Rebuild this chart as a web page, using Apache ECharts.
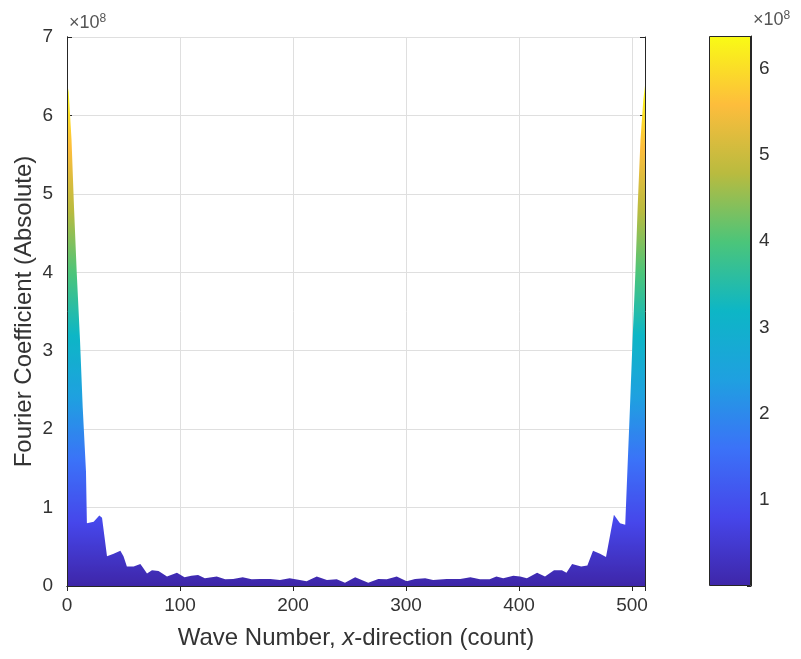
<!DOCTYPE html>
<html>
<head>
    <meta charset="UTF-8">
    <title>Fourier Coefficient</title>
    <style>
        html, body { margin: 0; padding: 0; background: #fff; }
        #chart { width: 801px; height: 659px; }
    </style>
    <script src="https://cdn.jsdelivr.net/npm/echarts/dist/echarts.min.js"></script>
</head>
<body>
<div id="chart"></div>
<script type="text/javascript">
    // side view of |F|, values in units of 1e8
    var waveNumber = [0, 1.5, 4, 6.2, 8.6, 11.5, 13.9, 16.8, 17.6, 19.2, 23.6, 28.6, 31, 35.4, 41.3, 47.2, 50, 53, 59, 64.9, 67,
        70.8, 75.2, 81, 88.5, 97.3, 104, 110, 116, 122, 132.5, 140, 147, 155.5, 163.4, 171, 180, 188.5, 197, 206, 212,
        221, 230, 238.7, 246, 255, 266.6, 275.5, 283, 291.8, 300.6, 308, 317, 324, 336, 348, 357, 365.5, 374, 380, 386,
        395, 401, 407, 416, 423, 431, 438, 442, 447, 455, 460.5, 465.5, 471.7, 477, 484, 489.4, 494, 496, 498.2, 500.5,
        503, 505, 507.5, 510, 511.5];
    var coefficient = [6.42, 6.3, 5.69, 4.83, 4.0, 3.14, 2.28, 1.46, 0.80, 0.78, 0.82, 0.90, 0.87, 0.38, 0.41, 0.45, 0.38, 0.25, 0.25, 0.28, 0.24,
        0.16, 0.20, 0.19, 0.12, 0.17, 0.11, 0.13, 0.14, 0.10, 0.12, 0.085, 0.09, 0.11, 0.085, 0.09, 0.09, 0.077, 0.10, 0.077, 0.06,
        0.12, 0.077, 0.085, 0.04, 0.11, 0.04, 0.09, 0.085, 0.12, 0.06, 0.09, 0.10, 0.077, 0.09, 0.09, 0.11, 0.085, 0.085, 0.12, 0.10,
        0.13, 0.12, 0.10, 0.17, 0.12, 0.20, 0.20, 0.17, 0.28, 0.25, 0.26, 0.45, 0.41, 0.37, 0.91, 0.80, 0.78, 1.5, 2.28, 3.14,
        4.0, 4.83, 5.69, 6.2, 6.38];
    var xMax = 511.5;
    var yMax = 7;
    var cMin = 0;
    var cMax = 6.38;   // colour limits of the surface

    // parula, bottom to top
    var parula = ['#3E26A8', '#4646EA', '#3B72F8', '#1FA0E0', '#0DB6C6', '#4BC57A', '#B9BB3F', '#FDBD3C', '#F9FB15'];

    var txt = '#333333';
    var font = 'Liberation Sans';
    var pairs = [];
    for (var i = 0; i < waveNumber.length; i++) {
        pairs.push([waveNumber[i], coefficient[i]]);
    }
    var stops = parula.map(function (c, i) {
        return { offset: i / (parula.length - 1), color: c };
    });
    var expo = {
        a: { fontFamily: font, fontSize: 18, fontWeight: 'normal', color: '#555' },
        b: { fontFamily: font, fontSize: 12, fontWeight: 'normal', color: '#555', verticalAlign: 'top', padding: [0, 0, 9, 0] }
    };

    var chart = echarts.init(document.getElementById('chart'));
    var option = {
        animation: false,
        backgroundColor: '#fff',
        title: [
            { text: '{a|×10}{b|8}', left: 64, top: 8, textStyle: { fontWeight: 'normal', rich: expo } },
            { text: '{a|×10}{b|8}', left: 748, top: 5, textStyle: { fontWeight: 'normal', rich: expo } }
        ],
        grid: [
            { left: 67, top: 37, width: 578, height: 549 },
            { left: 709, top: 36, width: 42, height: 550 }
        ],
        visualMap: {
            type: 'continuous', show: false, seriesIndex: 0, dimension: 1,
            min: cMin, max: cMax, inRange: { color: parula }
        },
        xAxis: [
            {
                gridIndex: 0, type: 'value', min: 0, max: xMax, interval: 100, position: 'bottom',
                axisLine: { lineStyle: { color: '#262626' } },
                axisTick: { inside: true, length: 5, lineStyle: { color: '#262626' } },
                axisLabel: {
                    color: txt, fontFamily: font, fontSize: 19, margin: 10,
                    formatter: function (v) { return v % 100 === 0 ? v : ''; }
                },
                splitLine: { show: true, lineStyle: { color: '#dfdfdf' } },
                name: 'Wave Number, {i|x}-direction (count)',
                nameLocation: 'middle', nameGap: 40,
                nameTextStyle: {
                    color: txt, fontFamily: font, fontSize: 24,
                    rich: { i: { fontStyle: 'italic', fontFamily: font, fontSize: 24, color: txt } }
                }
            },
            {
                gridIndex: 0, type: 'value', min: 0, max: xMax, interval: 100, position: 'top',
                axisLine: { lineStyle: { color: '#262626' } },
                axisTick: { inside: true, length: 5, lineStyle: { color: '#262626' } },
                axisLabel: { show: false }, splitLine: { show: false }
            },
            { gridIndex: 1, type: 'category', data: ['c'], show: false }
        ],
        yAxis: [
            {
                gridIndex: 0, type: 'value', min: 0, max: yMax, interval: 1, position: 'left',
                axisLine: { show: true, lineStyle: { color: '#262626' } },
                axisTick: { show: true, inside: true, length: 5, lineStyle: { color: '#262626' } },
                axisLabel: { color: txt, fontFamily: font, fontSize: 19, margin: 14 },
                splitLine: { show: true, lineStyle: { color: '#dfdfdf' } },
                name: 'Fourier Coefficient (Absolute)',
                nameLocation: 'middle', nameGap: 31, nameMoveOverlap: false,
                nameTextStyle: { color: txt, fontFamily: font, fontSize: 24 }
            },
            {
                // left border drawn over the surface
                gridIndex: 0, type: 'value', min: 0, max: yMax, position: 'left', z: 10,
                axisLine: { show: true, lineStyle: { color: '#262626' } },
                axisTick: { show: false }, axisLabel: { show: false }, splitLine: { show: false }
            },
            {
                gridIndex: 0, type: 'value', min: 0, max: yMax, interval: 1, position: 'right',
                axisLine: { show: true, lineStyle: { color: '#262626' } },
                axisTick: { show: true, inside: true, length: 5, lineStyle: { color: '#262626' } },
                axisLabel: { show: false }, splitLine: { show: false }
            },
            {
                gridIndex: 1, type: 'value', min: cMin, max: cMax, interval: 1, position: 'right',
                axisLine: { show: true, lineStyle: { color: '#262626' } },
                axisTick: { show: true, inside: true, length: 4, lineStyle: { color: '#262626' } },
                axisLabel: {
                    color: txt, fontFamily: font, fontSize: 19, margin: 8,
                    formatter: function (v) { return (v > 0 && Math.round(v) === v) ? v : ''; }
                },
                splitLine: { show: false }
            }
        ],
        series: [
            {
                type: 'line', xAxisIndex: 0, yAxisIndex: 0,
                data: pairs, showSymbol: false, smooth: false,
                lineStyle: { width: 0 },
                areaStyle: { opacity: 1 }
            },
            {
                type: 'bar', xAxisIndex: 2, yAxisIndex: 3,
                data: [cMax], barWidth: '100%',
                itemStyle: {
                    color: new echarts.graphic.LinearGradient(0, 1, 0, 0, stops),
                    borderColor: '#262626', borderWidth: 1
                }
            }
        ]
    };
    chart.setOption(option);
</script>
</body>
</html>
